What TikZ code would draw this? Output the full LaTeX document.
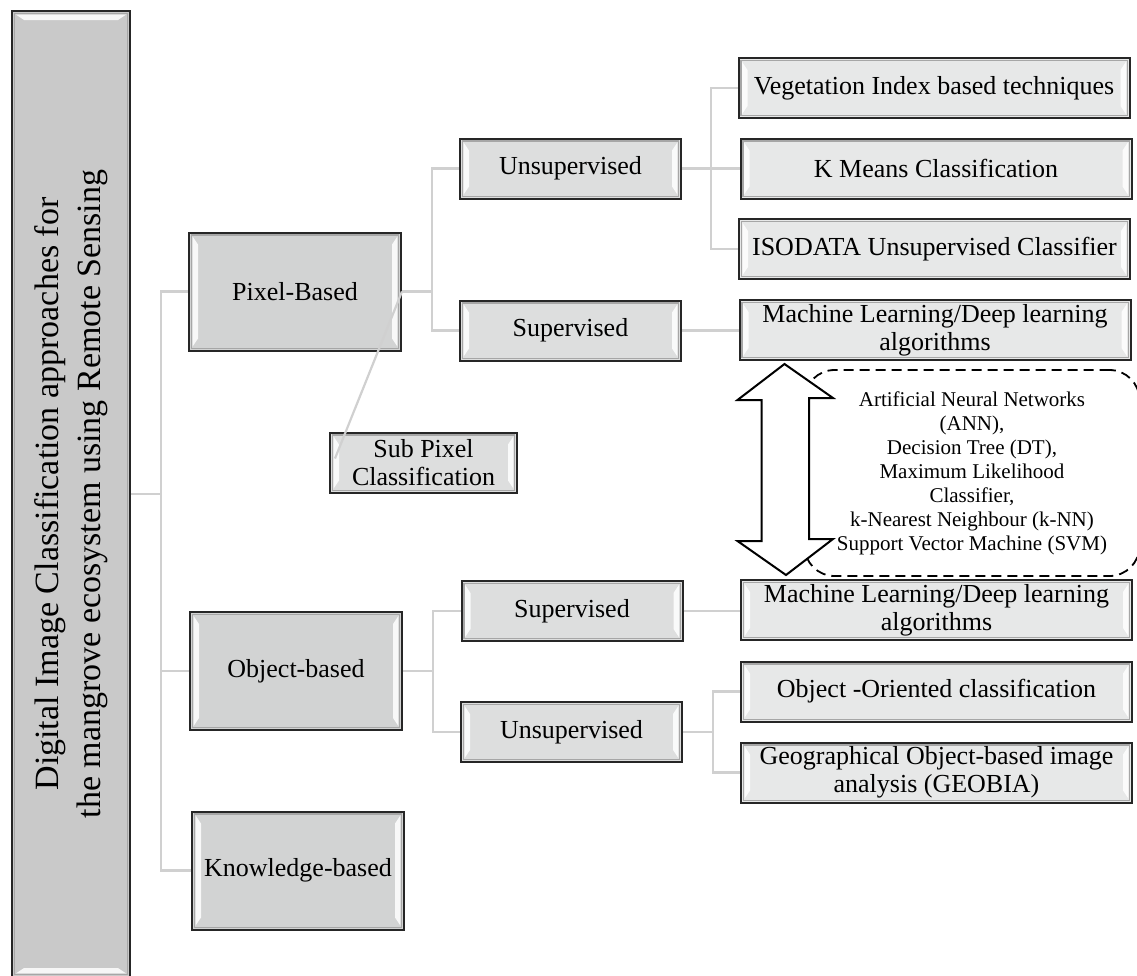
\documentclass[tikz,border=0pt]{standalone}
\usepackage{fontspec}
\setmainfont{Liberation Serif}
\usepackage{tikz}
\usetikzlibrary{positioning, calc}
\definecolor{rootgray}{HTML}{C9C9C9}
\definecolor{onegray}{HTML}{D2D3D3}
\definecolor{twogray}{HTML}{DDDEDE}
\definecolor{threegray}{HTML}{E7E8E8}
\definecolor{linkgray}{HTML}{D0D0D0}

\tikzset{
    bevel/.style={path picture={
        \draw[black!35, line width=0.6pt] ([shift={(1.2pt,-1.2pt)}]path picture bounding box.north west) rectangle ([shift={(-1.2pt,1.2pt)}]path picture bounding box.south east);
        \fill[white, opacity=.85] ([shift={(1.8pt,-2pt)}]path picture bounding box.north west) -- ([shift={(4.5pt,-6pt)}]path picture bounding box.north west) -- ([shift={(4.5pt,6pt)}]path picture bounding box.south west) -- ([shift={(1.8pt,2pt)}]path picture bounding box.south west) -- cycle;
        \fill[white, opacity=.85] ([shift={(-1.8pt,-2pt)}]path picture bounding box.north east) -- ([shift={(-4.5pt,-6pt)}]path picture bounding box.north east) -- ([shift={(-4.5pt,6pt)}]path picture bounding box.south east) -- ([shift={(-1.8pt,2pt)}]path picture bounding box.south east) -- cycle;
    }},
    rootbevel/.style={path picture={
        \draw[black!35, line width=0.6pt] ([shift={(1.2pt,-1.2pt)}]path picture bounding box.north west) rectangle ([shift={(-1.2pt,1.2pt)}]path picture bounding box.south east);
        \fill[white, opacity=.85] ([shift={(2pt,-1.8pt)}]path picture bounding box.north west) -- ([shift={(-2pt,-1.8pt)}]path picture bounding box.north east) -- ([shift={(-6pt,-4.5pt)}]path picture bounding box.north east) -- ([shift={(6pt,-4.5pt)}]path picture bounding box.north west) -- cycle;
        \fill[white, opacity=.85] ([shift={(2pt,1.8pt)}]path picture bounding box.south west) -- ([shift={(-2pt,1.8pt)}]path picture bounding box.south east) -- ([shift={(-6pt,4.5pt)}]path picture bounding box.south east) -- ([shift={(6pt,4.5pt)}]path picture bounding box.south west) -- cycle;
    }},
    box/.style={draw=black!85, line width=1pt, inner sep=1pt, align=center,
        font=\fontsize{13pt}{14pt}\selectfont},
    rootbox/.style={box, rootbevel, fill=rootgray, minimum width=59pt, minimum height=483pt,
        font=\fontsize{17pt}{21pt}\selectfont},
    lvone/.style={box, bevel, fill=onegray, minimum width=106pt, minimum height=59pt},
    lvtwo/.style={box, bevel, fill=twogray, minimum width=110.5pt, minimum height=30pt},
    lvthree/.style={box, bevel, fill=threegray, minimum width=195.5pt, minimum height=30pt},
    link/.style={draw=linkgray, line width=1.1pt},
    algobox/.style={draw, dashed, dash pattern=on 5pt off 3pt, line width=0.9pt, rounded corners=15pt,
        minimum width=167.5pt, minimum height=103pt, align=center,
        font=\fontsize{10.5pt}{12pt}\selectfont},
    blockarrow/.style={draw, fill=white, line width=1pt, line join=miter}
}

\begin{document}
\begin{tikzpicture}[x=0.5pt, y=-0.5pt]
\useasboundingbox (0,0) rectangle (1137,976);
% Root
\node[rootbox] (root) at (71,494) {\rotatebox{90}{\begin{tabular}{@{}c@{}}Digital Image Classification approaches for\\the mangrove ecosystem using Remote Sensing\end{tabular}}};
% Level one
\node[lvone] (pix) at (295,291.5) {Pixel-Based};
\node[lvone] (obj) at (296,671) {Object-based};
\node[lvone] (know) at (298,870.5) {Knowledge-based};
\node[lvtwo, minimum width=93.5pt] (sub) at (423.5,462.5) {Sub Pixel\\Classification};
% Level two
\node[lvtwo] (uns1) at (570.5,168.5) {Unsupervised};
\node[lvtwo] (sup1) at (570.5,330.5) {Supervised};
\node[lvtwo] (sup2) at (572,611) {Supervised};
\node[lvtwo] (uns2) at (571.5,732) {Unsupervised};
% Level three
\node[lvthree] (veg) at (934,88) {Vegetation Index based techniques};
\node[lvthree] (kmeans) at (936,168.5) {K Means Classification};
\node[lvthree] (iso) at (934.5,249) {ISODATA Unsupervised Classifier};
\node[lvthree] (ml1) at (935,330) {Machine Learning/Deep learning\\algorithms};
\node[lvthree] (ml2) at (936.5,610) {Machine Learning/Deep learning\\algorithms};
\node[lvthree] (oo) at (936.5,691.5) {Object -Oriented classification};
\node[lvthree] (geo) at (936.5,772.5) {Geographical Object-based image\\analysis (GEOBIA)};
% Algorithms
\node[algobox] (algos) at (972,473) {Artificial Neural Networks\\(ANN),\\Decision Tree (DT),\\Maximum Likelihood\\Classifier,\\k-Nearest Neighbour (k-NN)\\Support Vector Machine (SVM)};
\coordinate (atop) at ([xshift=23pt,yshift=-1.5pt]ml1.south west);
\coordinate (abot) at ([xshift=23pt,yshift=2pt]ml2.north west);
\draw[blockarrow] (atop) -- ++(-47,36) -- ++(24,0) -- ++(0,141) -- ++(-24,0) -- (abot)
    -- ++(47,-36) -- ++(-24,0) -- ++(0,-141) -- ++(24,0) -- cycle;
% Links
\draw[link] (root.east) -- ++(30,0) |- (pix.west);
\draw[link] (root.east) -- ++(30,0) |- (obj.west);
\draw[link] (root.east) -- ++(30,0) |- (know.west);
\draw[link] (pix.east) -- ([xshift=3pt,yshift=2pt]sub.west);
\draw[link] (pix.east) -- ++(30,0) |- (uns1.west);
\draw[link] (pix.east) -- ++(30,0) |- (sup1.west);
\draw[link] (uns1.east) -- ++(29,0) |- (veg.west);
\draw[link] (uns1.east) -- (kmeans.west);
\draw[link] (uns1.east) -- ++(29,0) |- (iso.west);
\draw[link] (sup1.east) -- (sup1.east -| ml1.west);
\draw[link] (obj.east) -- ++(30,0) |- (sup2.west);
\draw[link] (obj.east) -- ++(30,0) |- (uns2.west);
\draw[link] (sup2.east) -- (sup2.east -| ml2.west);
\draw[link] (uns2.east) -- ++(30,0) |- (oo.west);
\draw[link] (uns2.east) -- ++(30,0) |- (geo.west);
\end{tikzpicture}
\end{document}
